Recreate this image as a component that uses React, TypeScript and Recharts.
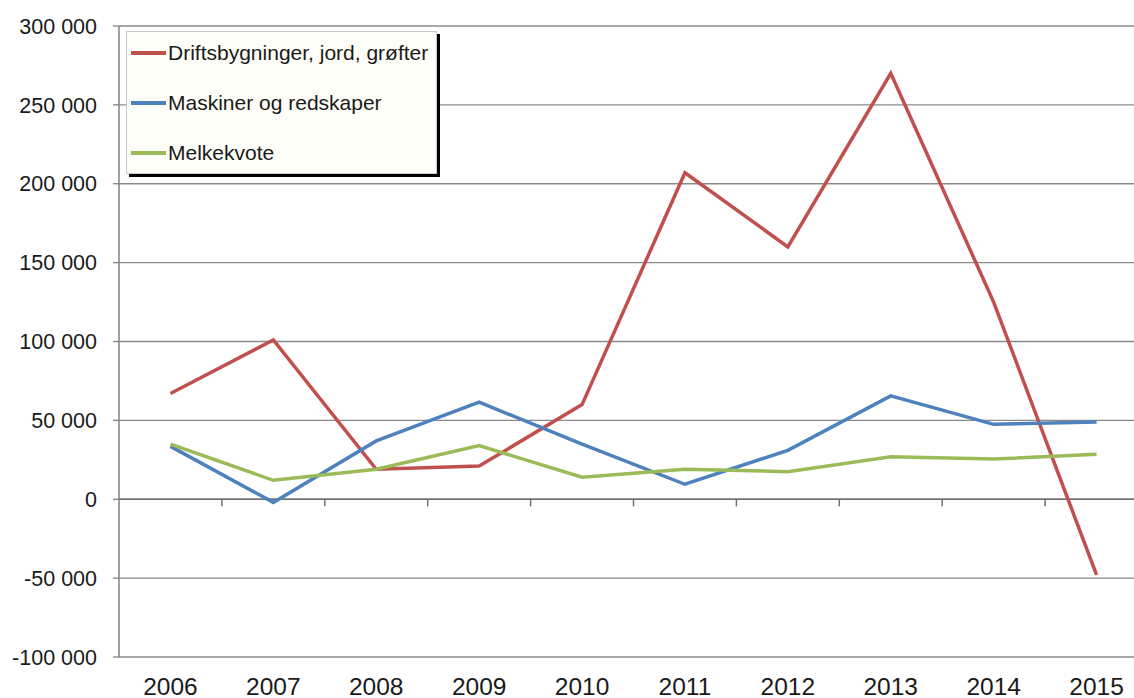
import React from "react";
import {
  LineChart,
  Line,
  XAxis,
  YAxis,
  CartesianGrid,
  ReferenceLine,
  Legend,
} from "recharts";

const years = [2006, 2007, 2008, 2009, 2010, 2011, 2012, 2013, 2014, 2015];
const driftsbygninger = [67000, 101000, 19000, 21000, 60000, 207000, 160000, 270000, 125000, -48000];
const maskiner = [33500, -2000, 37000, 61500, 35000, 9500, 31000, 65500, 47500, 49000];
const melkekvote = [35000, 12000, 19000, 34000, 14000, 19000, 17500, 27000, 25500, 28500];
const yTicks = [-100000, -50000, 0, 50000, 100000, 150000, 200000, 250000, 300000];

const series = [
  { key: "drift", name: "Driftsbygninger, jord, grøfter", color: "#c0504d" },
  { key: "maskin", name: "Maskiner og redskaper", color: "#4f81bd" },
  { key: "melk", name: "Melkekvote", color: "#9bbb59" },
];

const data = years.map((year, i) => ({
  year,
  drift: driftsbygninger[i],
  maskin: maskiner[i],
  melk: melkekvote[i],
}));

// small tick marks on the zero line, between the years
const boundaries = years.slice(0, -1).map((y) => y + 0.5);

const fmt = (v: number) =>
  v.toLocaleString("en-US").replace(/,/g, " ");

const FONT = "'Liberation Sans', Arial, sans-serif";

function LegendBox() {
  return (
    <div
      style={{
        width: 311,
        height: 143,
        background: "#fefef8",
        border: "1px solid #c8c8c8",
        boxShadow: "3px 3px 0 #000",
        fontFamily: FONT,
        fontSize: 21,
        color: "#1a1a1a",
        boxSizing: "border-box",
        overflow: "visible",
      }}
    >
      <div style={{ marginTop: -4 }}>
        {series.map((s) => (
          <div
            key={s.key}
            style={{ display: "flex", alignItems: "center", height: 50 }}
          >
            <div
              style={{
                width: 35,
                height: 4,
                background: s.color,
                marginLeft: 4,
                marginRight: 2,
              }}
            />
            <span style={{ whiteSpace: "nowrap" }}>{s.name}</span>
          </div>
        ))}
      </div>
    </div>
  );
}

export default function App() {
  return (
    <div
      style={{
        position: "fixed",
        left: 0,
        top: 0,
        width: 1134,
        height: 698,
        overflow: "hidden",
        background: "#fff",
      }}
    >
      <LineChart
        width={1148}
        height={698}
        data={data}
        margin={{ top: 26, right: 0, bottom: 0, left: 0 }}
      >
        <CartesianGrid vertical={false} stroke="#8a8a8a" strokeWidth={1.3} />
        <XAxis
          dataKey="year"
          type="number"
          domain={[2005.5, 2015.5]}
          ticks={years}
          height={41}
          axisLine={false}
          tickLine={false}
          tickSize={0}
          tickMargin={21}
          tick={{ fill: "#1a1a1a", fontSize: 24.5, fontFamily: FONT }}
        />
        <YAxis
          domain={[-100000, 300000]}
          ticks={yTicks}
          width={119}
          tickFormatter={fmt}
          axisLine={{ stroke: "#808080", strokeWidth: 1.5 }}
          tickLine={{ stroke: "#808080", strokeWidth: 1.3 }}
          tickSize={6}
          tickMargin={16}
          tick={{ fill: "#1a1a1a", fontSize: 21.5, fontFamily: FONT }}
        />
        <ReferenceLine y={0} stroke="#707070" strokeWidth={1.5} />
        {boundaries.map((b) => (
          <ReferenceLine
            key={b}
            segment={[
              { x: b, y: 0 },
              { x: b, y: -4500 },
            ]}
            stroke="#707070"
            strokeWidth={1.5}
          />
        ))}
        {series.map((s) => (
          <Line
            key={s.key}
            type="linear"
            dataKey={s.key}
            name={s.name}
            stroke={s.color}
            strokeWidth={3.5}
            dot={false}
            isAnimationActive={false}
          />
        ))}
        <Legend
          layout="horizontal"
          verticalAlign="middle"
          align="center"
          content={() => <LegendBox />}
          wrapperStyle={{ left: 126, top: 31, width: 311 }}
        />
      </LineChart>
    </div>
  );
}
